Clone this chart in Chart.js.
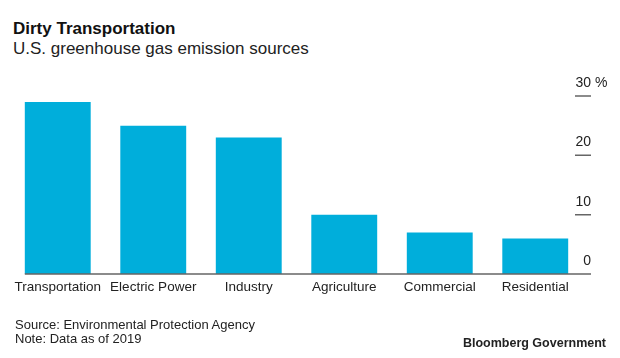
<!DOCTYPE html>
<html>
<head>
<meta charset="utf-8">
<script src="https://cdn.jsdelivr.net/npm/chart.js@4.4.1/dist/chart.umd.min.js"></script>
<style>
	html, body { margin: 0; padding: 0; background: #fff; }
	#wrap { position: relative; width: 620px; height: 358px; overflow: hidden; font-family: "Liberation Sans", Arial, sans-serif; }
	#wrap canvas { position: absolute; left: 0; top: 0; }
	.txt { position: absolute; white-space: nowrap; }
	#title { left: 13px; top: 19px; font-size: 17px; line-height: 20px; font-weight: bold; color: #111; }
	#subtitle { left: 13px; top: 39px; font-size: 17px; line-height: 20px; color: #222; }
	#source { left: 15px; top: 318px; font-size: 13px; line-height: 14px; color: #222; }
	#brand { right: 14px; top: 336px; font-size: 12.5px; line-height: 14px; font-weight: bold; color: #222; }
</style>
</head>
<body>
<div id="wrap">
	<div class="txt" id="title">Dirty Transportation</div>
	<div class="txt" id="subtitle">U.S. greenhouse gas emission sources</div>
	<canvas id="chart"></canvas>
	<div class="txt" id="source">Source: Environmental Protection Agency<br>Note: Data as of 2019</div>
	<div class="txt" id="brand">Bloomberg Government</div>
</div>
<script>
const categories = ["Transportation", "Electric Power", "Industry", "Agriculture", "Commercial", "Residential"];
const shares = [29, 25, 23, 10, 7, 6];
const yTicks = [0, 10, 20, 30];

const FONT = "'Liberation Sans', Arial, sans-serif";
const BAR_BLUE = "#00aedb";
const AXIS_GREY = "#666";

// short tick marks straddling the right edge, the baseline and the "%" unit
const axisDecor = {
	id: "axisDecor",
	afterDraw(chart) {
		const { ctx, chartArea, scales } = chart;
		const first = chart.getDatasetMeta(0).data[0];
		const baseY = scales.y.getPixelForValue(0);
		ctx.save();
		ctx.strokeStyle = AXIS_GREY;
		ctx.lineWidth = 1.5;
		ctx.beginPath();
		ctx.moveTo(first.x - first.width / 2, baseY);
		ctx.lineTo(chartArea.right + 8, baseY);
		for (const v of yTicks) {
			const y = scales.y.getPixelForValue(v);
			ctx.moveTo(chartArea.right - 8, y);
			ctx.lineTo(chartArea.right + 8, y);
		}
		ctx.stroke();
		ctx.fillStyle = "#222";
		ctx.font = "14px " + FONT;
		ctx.textAlign = "left";
		ctx.textBaseline = "middle";
		ctx.fillText("%", chartArea.right + 12, scales.y.getPixelForValue(yTicks[yTicks.length - 1]) - 13);
		ctx.restore();
	},
};

new Chart(document.getElementById("chart").getContext("2d"), {
	type: "bar",
	data: {
		labels: categories,
		datasets: [
			{
				data: shares,
				backgroundColor: BAR_BLUE,
				borderWidth: 0,
				categoryPercentage: 1,
				barPercentage: 0.69,
			},
		],
	},
	options: {
		responsive: true,
		maintainAspectRatio: false,
		animation: false,
		layout: { padding: { left: 10, right: 29, top: 96, bottom: 54 } },
		plugins: {
			legend: { display: false },
			tooltip: { enabled: false },
		},
		scales: {
			x: {
				grid: { display: false, drawTicks: false },
				border: { display: false },
				ticks: {
					color: "#222",
					padding: 5,
					maxRotation: 0,
					autoSkip: false,
					font: { family: FONT, size: 13.5 },
				},
				afterFit(scale) {
					scale.height = 30;
				},
			},
			y: {
				position: "right",
				min: 0,
				max: 30,
				afterBuildTicks(scale) {
					scale.ticks = yTicks.map((v) => ({ value: v }));
				},
				grid: { display: false, drawTicks: false },
				border: { display: false },
				ticks: {
					color: "#222",
					mirror: true,
					crossAlign: "near",
					padding: 8,
					labelOffset: -13,
					font: { family: FONT, size: 14 },
					callback: (v) => String(v),
				},
				afterFit(scale) {
					scale.width = 8;
				},
			},
		},
	},
	plugins: [axisDecor],
});
</script>
</body>
</html>
